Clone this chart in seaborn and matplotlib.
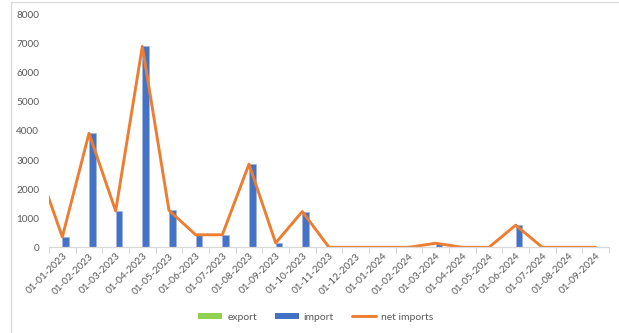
import matplotlib
matplotlib.use("Agg")
import matplotlib.pyplot as plt
from matplotlib.patches import Patch
from matplotlib.lines import Line2D
import numpy as np
import pandas as pd
import seaborn as sns

# Monthly trade figures
months = ["01-01-2023", "01-02-2023", "01-03-2023", "01-04-2023", "01-05-2023",
          "01-06-2023", "01-07-2023", "01-08-2023", "01-09-2023", "01-10-2023",
          "01-11-2023", "01-12-2023", "01-01-2024", "01-02-2024", "01-03-2024",
          "01-04-2024", "01-05-2024", "01-06-2024", "01-07-2024", "01-08-2024",
          "01-09-2024"]
export = [0] * 21
imports = [354, 3920, 1250, 6910, 1270, 430, 430, 2860, 150, 1230,
           0, 0, 0, 0, 140, 0, 0, 760, 0, 0, 0]
# net imports also carries the preceding month (01-12-2022), which sits just
# off the left edge of the axis
net_prev_month = 2980
net_imports = [net_prev_month] + [i - e for i, e in zip(imports, export)]
yticks = list(range(0, 8001, 1000))

GREEN = "#92D050"
BLUE = "#4472C4"
ORANGE = "#ED7D31"
GRAY_TXT = "#595959"
GRAY_LN = "#D9D9D9"

sns.set_theme(style="white")
plt.rcParams["font.family"] = ["Lato", "DejaVu Sans"]

fig = plt.figure(figsize=(6.19, 3.33), dpi=100)
ax = fig.add_axes([49 / 619, 1 - 247.3 / 333, 560 / 619, (247.3 - 14.7) / 333])

bars = pd.DataFrame({
    "month": months * 2,
    "value": export + imports,
    "series": ["export"] * len(months) + ["import"] * len(months),
})
sns.barplot(data=bars, x="month", y="value", hue="series",
            palette={"export": GREEN, "import": BLUE}, width=0.5,
            edgecolor="#9DB5E3", linewidth=0.5, legend=False, ax=ax,
            saturation=1)

line_x = np.arange(-1, len(months))
sns.lineplot(x=line_x, y=net_imports, color=ORANGE, linewidth=2.1, ax=ax,
             legend=False)

ax.set_xlim(-0.5, len(months) - 0.5)
ax.set_ylim(0, 8000)
ax.set_yticks(yticks)
ax.set_yticklabels([str(v) for v in yticks])
ax.set_xticks(range(len(months)))
ax.set_xticklabels(months, rotation=45, ha="right", rotation_mode="anchor")
ax.set_xticks(np.arange(-0.5, len(months)), minor=True)
ax.tick_params(axis="x", which="major", length=0, pad=3, labelsize=7.2,
               labelcolor=GRAY_TXT)
ax.tick_params(axis="x", which="minor", length=4, width=0.8, color=GRAY_LN,
               bottom=True)
ax.tick_params(axis="y", length=0, pad=7, labelsize=7.2, labelcolor=GRAY_TXT)
ax.set_xlabel("")
ax.set_ylabel("")
for side in ("top", "right", "left"):
    ax.spines[side].set_visible(False)
ax.spines["bottom"].set_color(GRAY_LN)
ax.spines["bottom"].set_linewidth(0.9)
ax.grid(False)

handles = [Patch(facecolor=GREEN, edgecolor="none", label="export"),
           Patch(facecolor=BLUE, edgecolor="none", label="import"),
           Line2D([], [], color=ORANGE, linewidth=2.1, label="net imports")]
leg = fig.legend(handles=handles, loc="center", bbox_to_anchor=(0.51, 1 - 317 / 333),
                 ncol=3, frameon=False, fontsize=7.5, handlelength=2.3,
                 handleheight=0.55, handletextpad=0.5, columnspacing=1.7)
for t in leg.get_texts():
    t.set_color(GRAY_TXT)

# chart-area border
fig.add_artist(Line2D([10.5 / 619, 10.5 / 619], [0, 1 - 1.5 / 333],
                      transform=fig.transFigure, color=GRAY_LN, linewidth=0.9))
fig.add_artist(Line2D([10.5 / 619, 1], [1 - 1.5 / 333, 1 - 1.5 / 333],
                      transform=fig.transFigure, color=GRAY_LN, linewidth=0.9))

fig.savefig("out.png", dpi=100)
